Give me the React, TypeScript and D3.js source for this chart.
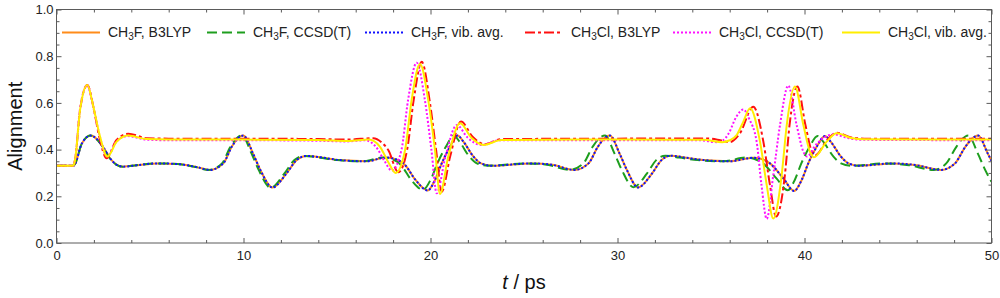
import React, { useRef, useEffect } from 'react';
import * as d3 from 'd3';

// [t in ps, alignment]
const ch3fB3lyp: [number, number][] = [
  [0, 0.331], [0.9, 0.331], [1.0, 0.34], [1.35, 0.425], [1.83, 0.46], [2.5, 0.41],
  [2.86, 0.363], [3.2, 0.336], [3.56, 0.327], [4.3, 0.333], [5.4, 0.341], [6.5, 0.338],
  [7.5, 0.325], [8.2, 0.313], [8.92, 0.341], [9.37, 0.412], [9.8, 0.455], [10.0, 0.46],
  [10.5, 0.385], [10.9, 0.313], [11.55, 0.238], [12.3, 0.298], [12.84, 0.355], [13.38, 0.373],
  [14.2, 0.366], [15.16, 0.355], [16.6, 0.35], [17.6, 0.366], [18.0, 0.362], [18.64, 0.334],
  [19.2, 0.27], [19.85, 0.225], [20.24, 0.27], [20.6, 0.341], [21.04, 0.412], [21.45, 0.46],
  [21.76, 0.434], [22.3, 0.37], [22.7, 0.341], [23.3, 0.331], [25.4, 0.341], [26.5, 0.335],
  [27.7, 0.313], [28.45, 0.341], [28.95, 0.412], [29.4, 0.455], [29.6, 0.46], [30.1, 0.385],
  [30.5, 0.313], [31.1, 0.238], [31.85, 0.298], [32.35, 0.355], [32.85, 0.374], [33.6, 0.366],
  [34.6, 0.355], [36.0, 0.35], [37.26, 0.365], [37.7, 0.36], [38.15, 0.341], [38.87, 0.277],
  [39.44, 0.223], [39.85, 0.27], [40.2, 0.341], [40.65, 0.412], [41.1, 0.458], [41.4, 0.434],
  [41.95, 0.37], [42.35, 0.341], [42.9, 0.331], [44.75, 0.341], [46.0, 0.333], [47.3, 0.313],
  [48.05, 0.341], [48.6, 0.412], [49.1, 0.455], [49.29, 0.46], [49.79, 0.385], [50, 0.352],
];

const ch3fCcsd: [number, number][] = [
  [0, 0.331], [0.9, 0.331], [1.0, 0.34], [1.35, 0.425], [1.82, 0.46], [2.49, 0.41],
  [2.85, 0.363], [3.19, 0.336], [3.55, 0.327], [4.28, 0.333], [5.37, 0.341], [6.46, 0.338],
  [7.45, 0.325], [8.14, 0.313], [8.85, 0.341], [9.3, 0.412], [9.72, 0.455], [9.92, 0.46],
  [10.42, 0.385], [10.81, 0.313], [11.45, 0.237], [12.19, 0.298], [12.72, 0.355], [13.25, 0.373],
  [14.06, 0.366], [15.0, 0.355], [16.42, 0.35], [17.4, 0.366], [17.8, 0.362], [18.42, 0.334],
  [18.97, 0.27], [19.6, 0.228], [20.0, 0.27], [20.37, 0.341], [20.82, 0.412], [21.25, 0.46],
  [21.55, 0.434], [22.08, 0.37], [22.48, 0.341], [23.07, 0.331], [25.15, 0.341], [26.24, 0.335],
  [27.42, 0.313], [28.17, 0.341], [28.67, 0.412], [29.13, 0.455], [29.33, 0.46], [29.83, 0.385],
  [30.23, 0.313], [30.85, 0.239], [31.58, 0.298], [32.07, 0.355], [32.56, 0.374], [33.3, 0.366],
  [34.28, 0.355], [35.66, 0.35], [36.9, 0.366], [37.33, 0.36], [37.78, 0.341], [38.5, 0.277],
  [39.1, 0.226], [39.48, 0.27], [39.83, 0.341], [40.27, 0.412], [40.7, 0.458], [41.0, 0.434],
  [41.55, 0.37], [41.95, 0.341], [42.5, 0.331], [44.35, 0.341], [45.6, 0.333], [46.9, 0.313],
  [47.58, 0.341], [48.12, 0.412], [48.58, 0.455], [48.76, 0.46], [49.26, 0.385], [49.66, 0.313],
  [50, 0.262],
];

// vib. avg. for CH3F sits right on top of the B3LYP curve
const ch3fVibAvg: [number, number][] = ch3fB3lyp;

const ch3clB3lyp: [number, number][] = [
  [0, 0.331], [0.9, 0.331], [1.0, 0.36], [1.26, 0.57], [1.65, 0.677], [1.97, 0.584],
  [2.3, 0.45], [2.68, 0.363], [3.2, 0.44], [3.84, 0.468], [4.82, 0.449], [6.0, 0.447],
  [10.0, 0.447], [14.0, 0.445], [15.6, 0.443], [16.94, 0.449], [17.4, 0.43], [17.74, 0.398],
  [18.28, 0.303], [18.75, 0.4], [19.1, 0.612], [19.53, 0.776], [19.97, 0.6], [20.3, 0.398],
  [20.6, 0.22], [21.05, 0.37], [21.63, 0.52], [22.25, 0.455], [22.9, 0.423], [23.8, 0.445],
  [30.0, 0.447], [34.8, 0.448], [35.5, 0.44], [36.0, 0.432], [36.55, 0.47], [37.26, 0.584],
  [37.8, 0.434], [38.15, 0.25], [38.48, 0.113], [38.95, 0.29], [39.2, 0.505], [39.62, 0.67],
  [40.05, 0.505], [40.4, 0.391], [40.6, 0.377], [41.2, 0.44], [41.72, 0.472], [42.5, 0.452],
  [43.2, 0.447], [50, 0.447],
];

const ch3clCcsd: [number, number][] = [
  [0, 0.331], [0.9, 0.331], [1.0, 0.36], [1.25, 0.57], [1.64, 0.675], [1.96, 0.584],
  [2.32, 0.455], [2.7, 0.372], [3.2, 0.434], [3.8, 0.458], [4.8, 0.443], [6.0, 0.44],
  [10.0, 0.44], [14.0, 0.438], [15.5, 0.435], [16.5, 0.44], [17.1, 0.41], [17.55, 0.35],
  [17.93, 0.31], [18.45, 0.4], [18.8, 0.612], [19.26, 0.772], [19.7, 0.612], [20.05, 0.398],
  [20.33, 0.213], [20.8, 0.37], [21.4, 0.505], [22.0, 0.45], [22.7, 0.42], [23.7, 0.44],
  [30.0, 0.44], [34.4, 0.44], [35.3, 0.432], [35.65, 0.44], [35.95, 0.47], [36.35, 0.54],
  [36.73, 0.572], [37.05, 0.53], [37.44, 0.434], [37.7, 0.248], [37.98, 0.103], [38.33, 0.29],
  [38.69, 0.505], [39.13, 0.674], [39.58, 0.505], [39.94, 0.391], [40.14, 0.37], [40.6, 0.42],
  [41.55, 0.465], [42.3, 0.45], [43.0, 0.442], [50, 0.44],
];

const ch3clVibAvg: [number, number][] = [
  [0, 0.331], [0.9, 0.331], [1.0, 0.36], [1.26, 0.57], [1.65, 0.677], [1.97, 0.584],
  [2.33, 0.455], [2.72, 0.37], [3.22, 0.434], [3.84, 0.46], [4.82, 0.445], [6.0, 0.443],
  [10.0, 0.443], [14.0, 0.441], [15.6, 0.437], [16.7, 0.443], [17.3, 0.412], [17.75, 0.345],
  [18.14, 0.3], [18.64, 0.398], [18.99, 0.612], [19.44, 0.767], [19.88, 0.612], [20.24, 0.398],
  [20.51, 0.21], [20.95, 0.37], [21.58, 0.513], [22.2, 0.45], [22.83, 0.42], [23.8, 0.441],
  [30.0, 0.443], [34.6, 0.442], [35.6, 0.432], [36.0, 0.44], [36.37, 0.462], [36.73, 0.52],
  [37.09, 0.577], [37.62, 0.434], [37.98, 0.248], [38.33, 0.105], [38.78, 0.291], [39.05, 0.505],
  [39.49, 0.67], [39.94, 0.505], [40.29, 0.391], [40.5, 0.367], [41.19, 0.434], [41.72, 0.47],
  [42.5, 0.45], [43.2, 0.444], [50, 0.443],
];

const xTicks = [0, 10, 20, 30, 40, 50];
const yTicks = [0, 0.2, 0.4, 0.6, 0.8, 1.0];

// label pieces: [before subscript, subscript, after]
const legendLabels: [string, string, string][] = [
  ['CH', '3', 'F, B3LYP'],
  ['CH', '3', 'F, CCSD(T)'],
  ['CH', '3', 'F, vib. avg.'],
  ['CH', '3', 'Cl, B3LYP'],
  ['CH', '3', 'Cl, CCSD(T)'],
  ['CH', '3', 'Cl, vib. avg.'],
];

const series = [ch3fB3lyp, ch3fCcsd, ch3fVibAvg, ch3clB3lyp, ch3clCcsd, ch3clVibAvg];

const styles = [
  { color: '#ff8c1a', dash: null },
  { color: '#1e9e1e', dash: '10,5' },
  { color: '#1010ff', dash: '2,2' },
  { color: '#ff1010', dash: '10,3,3,3' },
  { color: '#ff10ff', dash: '2,2' },
  { color: '#ffee00', dash: null },
];

const legendX = [62, 207, 365, 525, 673, 842];

const FONT = '"Liberation Sans", Arial, Helvetica, sans-serif';

const App = () => {
  const svgRef = useRef<SVGSVGElement>(null);

  useEffect(() => {
    const svg = d3.select(svgRef.current);
    svg.selectAll('*').remove();

    const left = 56.5, right = 991.5, top = 9.5, bottom = 243;
    const x = d3.scaleLinear().domain([0, 50]).range([left, right]);
    const y = d3.scaleLinear().domain([0, 1]).range([bottom, top]);

    svg.append('defs').append('clipPath').attr('id', 'plotclip')
      .append('rect')
      .attr('x', left).attr('y', top)
      .attr('width', right - left).attr('height', bottom - top);

    // lines
    const line = d3.line<[number, number]>()
      .x(d => x(d[0]))
      .y(d => y(d[1]))
      .curve(d3.curveMonotoneX);

    const plot = svg.append('g').attr('clip-path', 'url(#plotclip)');
    series.forEach((data, i) => {
      plot.append('path')
        .datum(data)
        .attr('fill', 'none')
        .attr('stroke', styles[i].color)
        .attr('stroke-width', 2)
        .attr('stroke-dasharray', styles[i].dash)
        .attr('d', line);
    });

    // axes, ticks pointing inward
    const minorX = d3.range(0, 51, 2).filter(v => v % 10 !== 0);
    const minorY = d3.range(0, 21).map(v => v * 0.05).filter((v, i) => i % 4 !== 0);

    const styleAxis = (g: any) => {
      g.select('.domain').remove();
      g.selectAll('line').attr('stroke', '#5a5a5a');
      g.selectAll('text').attr('font-family', FONT).attr('font-size', 13).attr('fill', '#222');
    };

    svg.append('g').attr('transform', `translate(0,${bottom})`)
      .call(d3.axisBottom(x).tickValues(xTicks).tickSize(-5).tickPadding(8).tickFormat(d3.format('d')))
      .call(styleAxis);
    svg.append('g').attr('transform', `translate(0,${bottom})`)
      .call(d3.axisBottom(x).tickValues(minorX).tickSize(-3).tickFormat(() => ''))
      .call(styleAxis);
    svg.append('g').attr('transform', `translate(0,${top})`)
      .call(d3.axisTop(x).tickValues(xTicks).tickSize(-5).tickFormat(() => ''))
      .call(styleAxis);
    svg.append('g').attr('transform', `translate(0,${top})`)
      .call(d3.axisTop(x).tickValues(minorX).tickSize(-3).tickFormat(() => ''))
      .call(styleAxis);

    svg.append('g').attr('transform', `translate(${left},0)`)
      .call(d3.axisLeft(y).tickValues(yTicks).tickSize(-5).tickPadding(3).tickFormat(d3.format('.1f')))
      .call(styleAxis);
    svg.append('g').attr('transform', `translate(${left},0)`)
      .call(d3.axisLeft(y).tickValues(minorY).tickSize(-3).tickFormat(() => ''))
      .call(styleAxis);
    svg.append('g').attr('transform', `translate(${right},0)`)
      .call(d3.axisRight(y).tickValues(yTicks).tickSize(-5).tickFormat(() => ''))
      .call(styleAxis);
    svg.append('g').attr('transform', `translate(${right},0)`)
      .call(d3.axisRight(y).tickValues(minorY).tickSize(-3).tickFormat(() => ''))
      .call(styleAxis);

    // frame
    svg.append('rect')
      .attr('x', left).attr('y', top)
      .attr('width', right - left).attr('height', bottom - top)
      .attr('fill', 'none')
      .attr('stroke', '#5a5a5a')
      .attr('stroke-width', 1);

    // legend
    legendLabels.forEach((lab, i) => {
      const g = svg.append('g').attr('transform', `translate(${legendX[i]},32.5)`);
      g.append('line')
        .attr('x1', 0).attr('x2', 38)
        .attr('stroke', styles[i].color)
        .attr('stroke-width', 2)
        .attr('stroke-dasharray', styles[i].dash);
      const t = g.append('text')
        .attr('x', 46).attr('y', 4.8)
        .attr('font-family', FONT)
        .attr('font-size', 14)
        .attr('fill', '#222');
      t.append('tspan').text(lab[0]);
      t.append('tspan').attr('font-size', 10).attr('dy', 3).text(lab[1]);
      t.append('tspan').attr('dy', -3).text(lab[2]);
    });

    // axis titles
    svg.append('text')
      .attr('transform', `translate(22,${(top + bottom) / 2}) rotate(-90)`)
      .attr('text-anchor', 'middle')
      .attr('font-family', FONT)
      .attr('font-size', 20)
      .attr('fill', '#111')
      .text('Alignment');

    const xt = svg.append('text')
      .attr('x', (left + right) / 2).attr('y', 289)
      .attr('text-anchor', 'middle')
      .attr('font-family', FONT)
      .attr('font-size', 20)
      .attr('fill', '#111');
    xt.append('tspan').attr('font-style', 'italic').text('t');
    xt.append('tspan').text(' / ps');
  }, []);

  return (
    <svg
      ref={svgRef}
      width={1000}
      height={298}
      style={{ position: 'absolute', left: 0, top: 0, background: '#fff' }}
    />
  );
};

export default App;
